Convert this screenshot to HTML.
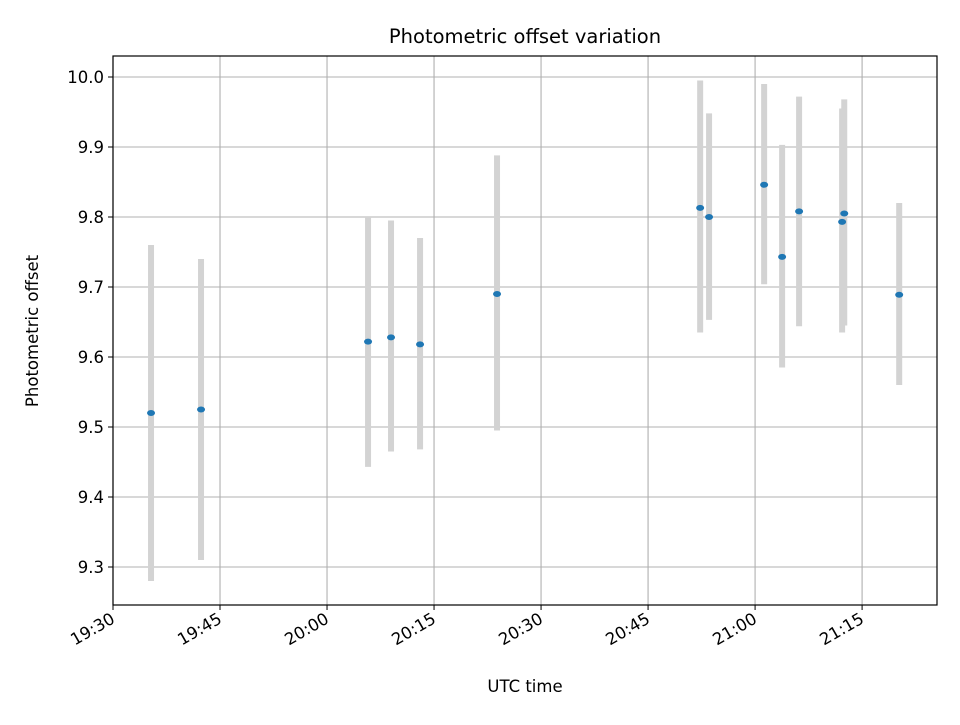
<!DOCTYPE html>
<html><head><meta charset="utf-8"><style>
body{margin:0;background:#fff;font-family:"Liberation Sans","DejaVu Sans",sans-serif}
svg text{font-family:"DejaVu Sans","Liberation Sans",sans-serif;fill:#000}
</style></head><body>
<svg id="chart" width="960" height="720" xmlns="http://www.w3.org/2000/svg">
<rect width="960" height="720" fill="#fff"/>
<g id="grid"></g>
<g id="bars"></g>
<g id="pts"></g>
<rect x="113" y="56" width="824" height="549" fill="none" stroke="#000" stroke-width="1.2"/>
<g id="ticks"></g>
<text x="525" y="43" font-size="19.5" text-anchor="middle">Photometric offset variation</text>
<text x="525" y="692" font-size="16.5" text-anchor="middle">UTC time</text>
<text transform="translate(38,331) rotate(-90)" font-size="16.5" text-anchor="middle">Photometric offset</text>
</svg>
<script>
// minutes after 19:30
const times=[5.33,12.34,35.75,38.97,43.04,53.83,82.3,83.55,91.27,93.79,96.17,102.2,102.5,110.2];
const offsets=[9.52,9.525,9.622,9.628,9.618,9.69,9.813,9.80,9.846,9.743,9.808,9.793,9.805,9.689];
const lows=[9.28,9.31,9.443,9.465,9.468,9.495,9.635,9.653,9.704,9.585,9.644,9.635,9.645,9.56];
const highs=[9.76,9.74,9.80,9.795,9.77,9.888,9.995,9.948,9.99,9.903,9.972,9.955,9.968,9.82];
const xTicks=[0,15,30,45,60,75,90,105];
const xTickLabels=["19:30","19:45","20:00","20:15","20:30","20:45","21:00","21:15"];
const yTicks=[9.3,9.4,9.5,9.6,9.7,9.8,9.9,10.0];
const yTickLabels=["9.3","9.4","9.5","9.6","9.7","9.8","9.9","10.0"];
const X0=113,X1=937,Y0=56,Y1=605,xmin=0,xmax=115.5,ymin=9.2457,ymax=10.03;
const sx=v=>X0+(v-xmin)/(xmax-xmin)*(X1-X0);
const sy=v=>Y1-(v-ymin)/(ymax-ymin)*(Y1-Y0);
const NS="http://www.w3.org/2000/svg";
function mk(t,a,p){const e=document.createElementNS(NS,t);for(const k in a)e.setAttribute(k,a[k]);p.appendChild(e);return e;}
const grid=document.getElementById('grid'),ticks=document.getElementById('ticks');
xTicks.forEach((t,i)=>{const x=sx(t);
 const g=mk('line',{x1:x,x2:x,y1:Y0,y2:Y1,stroke:'#b0b0b0','stroke-width':1.1},grid);
 
 
 const k=mk('line',{x1:x,x2:x,y1:Y1,y2:Y1+5,stroke:'#000'},ticks);
 
 
 const tx=mk('text',{x:x+3,y:Y1+17,'font-size':16.5,'text-anchor':'end',transform:`rotate(-30 ${x+3} ${Y1+17})`},ticks);
 tx.textContent=xTickLabels[i];
 
 
});
yTicks.forEach((t,i)=>{const y=sy(t);
 const g=mk('line',{x1:X0,x2:X1,y1:y,y2:y,stroke:'#b0b0b0','stroke-width':1.1},grid);
 
 
 const k=mk('line',{x1:X0-5,x2:X0,y1:y,y2:y,stroke:'#000'},ticks);
 
 
 const tx=mk('text',{x:X0-9,y:y+6,'font-size':16.5,'text-anchor':'end'},ticks);
 tx.textContent=yTickLabels[i];
 
 
});
const bars=document.getElementById('bars'),pts=document.getElementById('pts');
times.forEach((t,i)=>{const x=sx(t);
 const b=mk('line',{x1:x,x2:x,y1:sy(lows[i]),y2:sy(highs[i]),stroke:'#d3d3d3','stroke-width':6},bars);
 
 
 const p=mk('ellipse',{cx:x,cy:sy(offsets[i]),rx:4,ry:3,fill:'#1f77b4'},pts);
 
 
});
</script>
</body></html>
